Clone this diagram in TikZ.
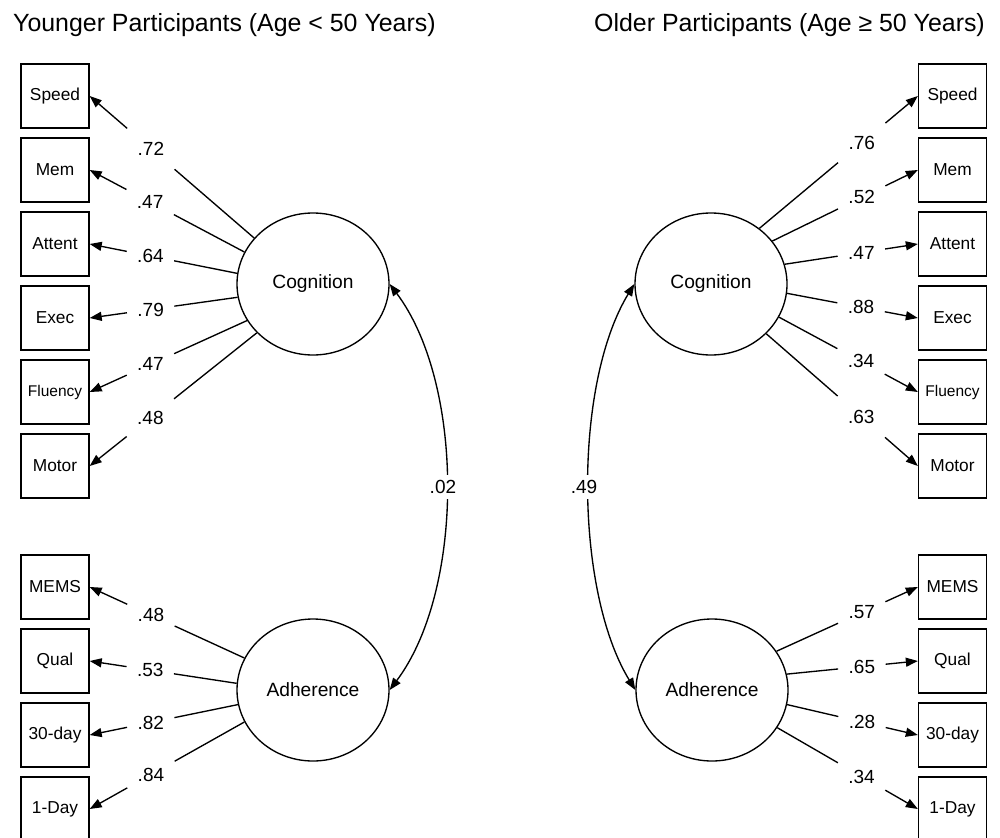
\documentclass[tikz,border=0pt]{standalone}
\usepackage{fontspec}
\setmainfont{Liberation Sans}
\usetikzlibrary{arrows.meta,shapes.geometric}
\begin{document}
\begin{tikzpicture}[x=1pt,y=-1pt,
  lw/.style={line width=1.35pt},
  obs/.style={draw,lw,rectangle,minimum width=68pt,minimum height=64pt,inner sep=0pt,font=\fontsize{17.3}{20}\selectfont},
  lat/.style={draw,lw,ellipse,minimum width=152pt,minimum height=142pt,inner sep=0pt,font=\fontsize{19.2}{22}\selectfont},
  gap/.style={rectangle,minimum width=47pt,minimum height=44pt,inner sep=0pt,font=\fontsize{19}{22}\selectfont},
  tip/.tip={Triangle[length=12pt,width=9pt]},
  load/.style={lw,-tip},
  cov/.style={lw,tip-tip},
  covlab/.style={fill=white,inner xsep=1pt,inner ysep=5pt,font=\fontsize{19}{22}\selectfont},
  title/.style={font=\fontsize{24.9}{29}\selectfont,inner sep=0pt}
]
\useasboundingbox (0,0) rectangle (1000,837);

% titles
\node[title,anchor=base west] (t1) at (13,32) {Younger Participants (Age < 50 Years)};
\node[title,anchor=base east] (t2) at (985,32) {Older Participants (Age ≥ 50 Years)};

% latent variables
\node[lat] (cl) at (313,284) {Cognition};
\node[lat] (al) at (313,690) {Adherence};
\node[lat] (cr) at (711,284) {Cognition};
\node[lat] (ar) at (712,690) {Adherence};

% left observed
\node[obs] (ls1) at (55,96) {Speed};
\node[obs] (ls2) at (55,170) {Mem};
\node[obs] (ls3) at (55,244) {Attent};
\node[obs] (ls4) at (55,318) {Exec};
\node[obs,font=\fontsize{15.5}{18}\selectfont] (ls5) at (55,392) {Fluency};
\node[obs] (ls6) at (55,466) {Motor};
\node[obs] (la1) at (55,587) {MEMS};
\node[obs] (la2) at (55,661) {Qual};
\node[obs] (la3) at (55,735) {30-day};
\node[obs] (la4) at (55,809) {1-Day};

% right observed
\node[obs] (rs1) at (952.5,96) {Speed};
\node[obs] (rs2) at (952.5,170) {Mem};
\node[obs] (rs3) at (952.5,244) {Attent};
\node[obs] (rs4) at (952.5,318) {Exec};
\node[obs,font=\fontsize{15.5}{18}\selectfont] (rs5) at (952.5,392) {Fluency};
\node[obs] (rs6) at (952.5,466) {Motor};
\node[obs] (ra1) at (952.5,587) {MEMS};
\node[obs] (ra2) at (952.5,661) {Qual};
\node[obs] (ra3) at (952.5,735) {30-day};
\node[obs] (ra4) at (952.5,809) {1-Day};

% left cognition loadings
\foreach \b/\a/\p/\v [count=\i] in {ls1/142/0.628/.72, ls2/155/0.609/.47, ls3/172/0.588/.64, ls4/190/0.588/.79, ls5/209/0.614/.47, ls6/221/0.637/.48} {
  \path (cl.\a) -- node[gap,pos=\p] (gcl\i) {\v} (\b.east);
  \draw[lw] (cl.\a) -- (gcl\i);
  \draw[load] (gcl\i) -- (\b.east);
}
% left adherence loadings
\foreach \b/\a/\p/\v [count=\i] in {la1/155/0.604/.48, la2/175.5/0.588/.53, la3/191/0.588/.82, la4/205/0.604/.84} {
  \path (al.\a) -- node[gap,pos=\p] (gal\i) {\v} (\b.east);
  \draw[lw] (al.\a) -- (gal\i);
  \draw[load] (gal\i) -- (\b.east);
}
% right cognition loadings
\foreach \b/\a/\p/\v [count=\i] in {rs1/49/0.646/.76, rs2/35.4/0.614/.52, rs3/15.6/0.576/.47, rs4/353.4/0.566/.88, rs5/334/0.591/.34, rs6/318.7/0.627/.63} {
  \path (cr.\a) -- node[gap,pos=\p] (gcr\i) {\v} (\b.west);
  \draw[lw] (cr.\a) -- (gcr\i);
  \draw[load] (gcr\i) -- (\b.west);
}
% right adherence loadings
\foreach \b/\a/\p/\v [count=\i] in {ra1/31.6/0.603/.57, ra2/12/0.573/.65, ra3/349.4/0.573/.28, ra4/330/0.6/.34} {
  \path (ar.\a) -- node[gap,pos=\p] (gar\i) {\v} (\b.west);
  \draw[lw] (ar.\a) -- (gar\i);
  \draw[load] (gar\i) -- (\b.west);
}

% covariances
\draw[cov] (cl.east) .. controls +(75,100) and +(75,-100) .. node[covlab,pos=0.5,xshift=-3pt] (cvl) {.02} (al.east);
\draw[cov] (cr.west) .. controls +(-61,100) and +(-61,-100) .. node[covlab,pos=0.5,xshift=-5pt] (cvr) {.49} (ar.west);
\end{tikzpicture}
\end{document}
